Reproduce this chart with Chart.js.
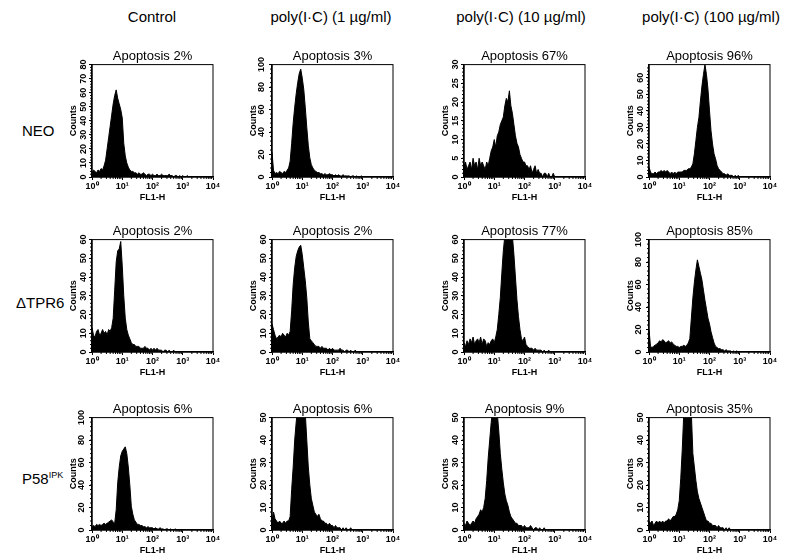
<!DOCTYPE html>
<html>
<head>
<meta charset="utf-8">
<script src="https://cdn.jsdelivr.net/npm/chart.js@4/dist/chart.umd.min.js"></script>
<style>
  body { margin: 0; background: #fff; }
  #fig { position: relative; width: 800px; height: 560px; font-family: "Liberation Sans", Arial, sans-serif; color: #000; }
  .colhead { position: absolute; top: 8px; font-size: 15px; transform: translateX(-50%); white-space: nowrap; }
  .rowhead { position: absolute; font-size: 15px; transform: translateY(-50%); white-space: nowrap; }
  .rowhead sup { font-size: 9px; }
  canvas { position: absolute; }
</style>
</head>
<body>
<div id="fig"></div>
<script>
// column / row headings
const columns = ['Control', 'poly(I·C) (1 µg/ml)', 'poly(I·C) (10 µg/ml)', 'poly(I·C) (100 µg/ml)'];
const rowNames = ['NEO', 'ΔTPR6', 'P58'];
const rowSup = ['', '', 'IPK'];
const apoptosis = [[2, 3, 67, 96], [2, 2, 77, 85], [6, 6, 9, 35]];
const yMax = [[80, 100, 30, 68], [60, 60, 60, 100], [100, 50, 50, 50]];
const yStep = [[10, 20, 5, 10], [10, 10, 10, 20], [20, 10, 10, 10]];
const decadeLabels = ['10⁰', '10¹', '10²', '10³', '10⁴'];

// histogram counts, 20 channels per decade (10^0 .. 10^4)
const neoControl = [3,5,4,3,5,4,6,5,8,12, 20,28,36,44,52,58,62,56,52,48, 42,24,15,10,7,5,4,4,3,3,
  2,3,2,2,3,2,1,2,2,1, 2,1,1,2,1,1,2,1,1,1, 1,2,1,1,0,1,1,0,1,0, 1,0,0,1,0,0,0,0,0,0, 0,0,0,0,0,0,0,0,0,0];
const neoPoly1 = [22,6,3,4,3,5,4,3,5,4, 6,8,14,30,48,62,74,84,92,96, 88,78,62,44,28,17,11,8,6,5,
  4,4,3,3,2,3,2,2,3,2, 2,1,2,1,2,1,1,2,1,1, 1,1,0,1,1,0,1,0,0,1, 0,0,0,0,0,0,0,0,0,0, 0,0,0,0,0,0,0,0,0,0];
const neoPoly10 = [3,4,2,3,4,2,5,3,4,2, 5,3,4,3,2,4,3,5,7,8, 10,8,11,12,14,15,16,19,21,20,
  23,19,17,14,11,9,8,6,5,4, 4,3,3,2,3,1,2,3,1,2, 1,1,0,1,1,0,1,0,0,1, 0,0,0,0,0,0,0,0,0,0, 0,0,0,0,0,0,0,0,0,0];
const neoPoly100 = [6,3,2,2,3,2,3,3,4,3, 4,3,4,3,2,3,2,3,2,3, 3,3,3,4,4,4,5,5,6,8,
  14,22,30,36,46,55,62,68,62,53, 40,28,20,14,11,7,5,4,3,2, 2,1,2,1,1,1,0,1,0,1, 0,0,0,0,0,0,0,0,0,0, 0,0,0,0,0,0,0,0,0,0];
const tprControl = [13,9,8,11,12,9,10,12,10,11, 9,12,11,13,18,33,48,54,55,59, 46,30,18,12,9,7,5,4,4,3,
  3,3,2,2,2,3,2,2,1,2, 1,2,1,2,1,1,1,0,1,1, 0,1,0,0,1,0,0,0,0,0, 0,0,0,0,0,0,0,0,0,0, 0,0,0,0,0,0,0,0,0,0];
const tprPoly1 = [15,12,9,7,8,9,8,10,9,8, 10,9,11,22,36,45,51,54,56,57, 52,45,38,29,16,7,6,5,4,3,
  3,3,2,3,2,2,2,1,2,1, 2,1,1,1,1,2,1,1,0,1, 1,0,1,0,0,1,0,0,0,0, 0,0,0,0,0,0,0,0,0,0, 0,0,0,0,0,0,0,0,0,0];
const tprPoly10 = [5,3,6,4,7,5,8,4,6,7, 5,8,4,7,6,3,5,4,6,7, 5,8,12,20,29,42,54,62,66,68,
  66,64,62,52,40,28,19,12,7,6, 8,4,3,2,2,2,1,2,1,1, 1,1,0,1,0,0,1,0,0,0, 0,0,0,0,0,0,0,0,0,0, 0,0,0,0,0,0,0,0,0,0];
const tprPoly100 = [20,5,4,5,6,7,8,10,9,11, 10,8,9,10,8,9,7,6,5,5, 4,5,5,6,5,6,8,12,30,48,
  62,73,82,76,70,64,55,46,38,30, 25,18,13,8,5,4,3,3,2,2, 1,2,1,1,1,0,1,0,1,0, 0,0,0,0,0,0,0,0,0,0, 0,0,0,0,0,0,0,0,0,0];
const p58Control = [3,4,3,5,4,5,4,5,6,5, 6,7,8,9,7,6,18,42,56,66, 70,72,74,68,56,40,21,14,9,7,
  5,5,4,4,3,3,2,3,2,2, 2,1,2,1,1,2,1,1,0,1, 1,0,1,0,0,1,0,0,0,0, 0,0,0,0,0,0,0,0,0,0, 0,0,0,0,0,0,0,0,0,0];
const p58Poly1 = [4,8,5,4,3,4,3,3,4,3, 4,4,6,18,28,40,48,54,58,60, 58,56,52,40,28,20,14,11,8,7,
  6,7,5,4,4,3,3,2,3,2, 2,1,2,1,1,1,0,1,0,1, 0,0,1,0,0,0,0,0,0,0, 0,0,0,0,0,0,0,0,0,0, 0,0,0,0,0,0,0,0,0,0];
const p58Poly10 = [3,2,4,3,2,3,4,3,5,6, 7,9,8,10,14,22,32,40,48,54, 56,55,52,44,34,27,21,16,13,11,
  8,6,5,4,3,3,2,2,2,1, 2,1,1,1,2,1,0,1,1,0, 1,0,0,1,0,0,0,0,0,0, 0,0,0,0,0,0,0,0,0,0, 0,0,0,0,0,0,0,0,0,0];
const p58Poly100 = [4,3,4,2,3,4,3,4,3,4, 3,4,4,5,4,5,6,6,7,9, 13,23,36,52,56,58,56,54,52,34,
  28,22,17,14,12,10,8,6,4,4, 3,3,2,2,2,1,2,1,1,1, 0,1,0,1,0,0,0,0,0,0, 0,0,0,0,0,0,0,0,0,0, 0,0,0,0,0,0,0,0,0,0];

const panels = [
  [neoControl, neoPoly1, neoPoly10, neoPoly100],
  [tprControl, tprPoly1, tprPoly10, tprPoly100],
  [p58Control, p58Poly1, p58Poly10, p58Poly100]
];

// layout of the grid (plot-area corners in page pixels)
const rowTop = [65, 240, 418];
const colLeft = [92, 272, 464, 649];
const colCenter = [152, 331, 521, 711];
const rowLabelY = [130, 302, 478];
const plotW = 121, plotH = 112;
const padL = 26, padR = 12, padT = 22, padB = 28;
const FONT = '"Liberation Sans", Arial, sans-serif';

const fig = document.getElementById('fig');

columns.forEach((c, i) => {
  const d = document.createElement('div');
  d.className = 'colhead';
  d.style.left = colCenter[i] + 'px';
  d.textContent = c;
  fig.appendChild(d);
});

rowNames.forEach((r, i) => {
  const d = document.createElement('div');
  d.className = 'rowhead';
  d.style.left = (i === 1 ? 16 : 22) + 'px';
  d.style.top = rowLabelY[i] + 'px';
  d.innerHTML = r + (rowSup[i] ? '<sup>' + rowSup[i] + '</sup>' : '');
  fig.appendChild(d);
});

// box around plot + minor ticks
const frame = {
  id: 'frame',
  afterDraw(chart) {
    const { ctx, chartArea: a, scales } = chart;
    ctx.save();
    ctx.strokeStyle = '#000';
    ctx.lineWidth = 1;
    ctx.strokeRect(a.left, a.top, a.right - a.left, a.bottom - a.top);
    ctx.beginPath();
    for (let d = 0; d < 4; d++) {
      for (let k = 2; k < 10; k++) {
        const px = scales.x.getPixelForValue((d + Math.log10(k)) * 20);
        ctx.moveTo(px, a.bottom);
        ctx.lineTo(px, a.bottom + 2);
      }
    }
    const minor = scales.y.options.ticks.stepSize / 5;
    for (let v = minor; v < scales.y.max; v += minor) {
      const py = scales.y.getPixelForValue(v);
      ctx.moveTo(a.left, py);
      ctx.lineTo(a.left - 2, py);
    }
    ctx.stroke();
    ctx.restore();
  }
};

function makePanel(r, c) {
  const data = panels[r][c];
  const canvas = document.createElement('canvas');
  canvas.width = padL + plotW + padR;
  canvas.height = padT + plotH + padB;
  canvas.style.left = (colLeft[c] - padL) + 'px';
  canvas.style.top = (rowTop[r] - padT) + 'px';
  fig.appendChild(canvas);

  const tickFont = { family: FONT, size: 9, weight: 'bold' };
  new Chart(canvas.getContext('2d'), {
    type: 'line',
    data: {
      labels: data.map((_, i) => i),
      datasets: [{
        data: data,
        fill: 'origin',
        backgroundColor: '#000',
        borderColor: '#000',
        borderWidth: 1,
        pointRadius: 0,
        tension: 0
      }]
    },
    options: {
      responsive: false,
      animation: false,
      devicePixelRatio: 1,
      layout: { padding: { left: 0, right: padR, top: 0, bottom: 0 } },
      plugins: {
        legend: { display: false },
        tooltip: { enabled: false },
        title: {
          display: true,
          fullSize: false,
          text: 'Apoptosis ' + apoptosis[r][c] + '%',
          color: '#000',
          font: { family: FONT, size: 13, weight: 'normal' },
          padding: { top: 6, bottom: 0 }
        }
      },
      scales: {
        x: {
          type: 'linear',
          min: 0,
          max: 80,
          ticks: {
            stepSize: 20,
            autoSkip: false,
            maxRotation: 0,
            color: '#000',
            font: tickFont,
            padding: 1,
            callback: v => decadeLabels[v / 20]
          },
          grid: { drawOnChartArea: false, tickLength: 3, color: '#000' },
          border: { color: '#000', width: 1.5 },
          title: { display: true, text: 'FL1-H', color: '#000', font: tickFont, padding: { top: 0, bottom: 2 } },
          afterFit: s => { s.height = padB; }
        },
        y: {
          min: 0,
          max: yMax[r][c],
          ticks: {
            stepSize: yStep[r][c],
            includeBounds: false,
            minRotation: 90,
            maxRotation: 90,
            crossAlign: 'center',
            padding: 0,
            color: '#000',
            font: tickFont
          },
          grid: { drawOnChartArea: false, tickLength: 3, color: '#000' },
          border: { color: '#000', width: 1.5 },
          title: { display: true, text: 'Counts', color: '#000', font: tickFont, padding: { top: 2, bottom: 0 } },
          afterFit: s => { s.width = padL; }
        }
      }
    },
    plugins: [frame]
  });
}

for (let r = 0; r < 3; r++) {
  for (let c = 0; c < 4; c++) makePanel(r, c);
}
</script>
</body>
</html>
